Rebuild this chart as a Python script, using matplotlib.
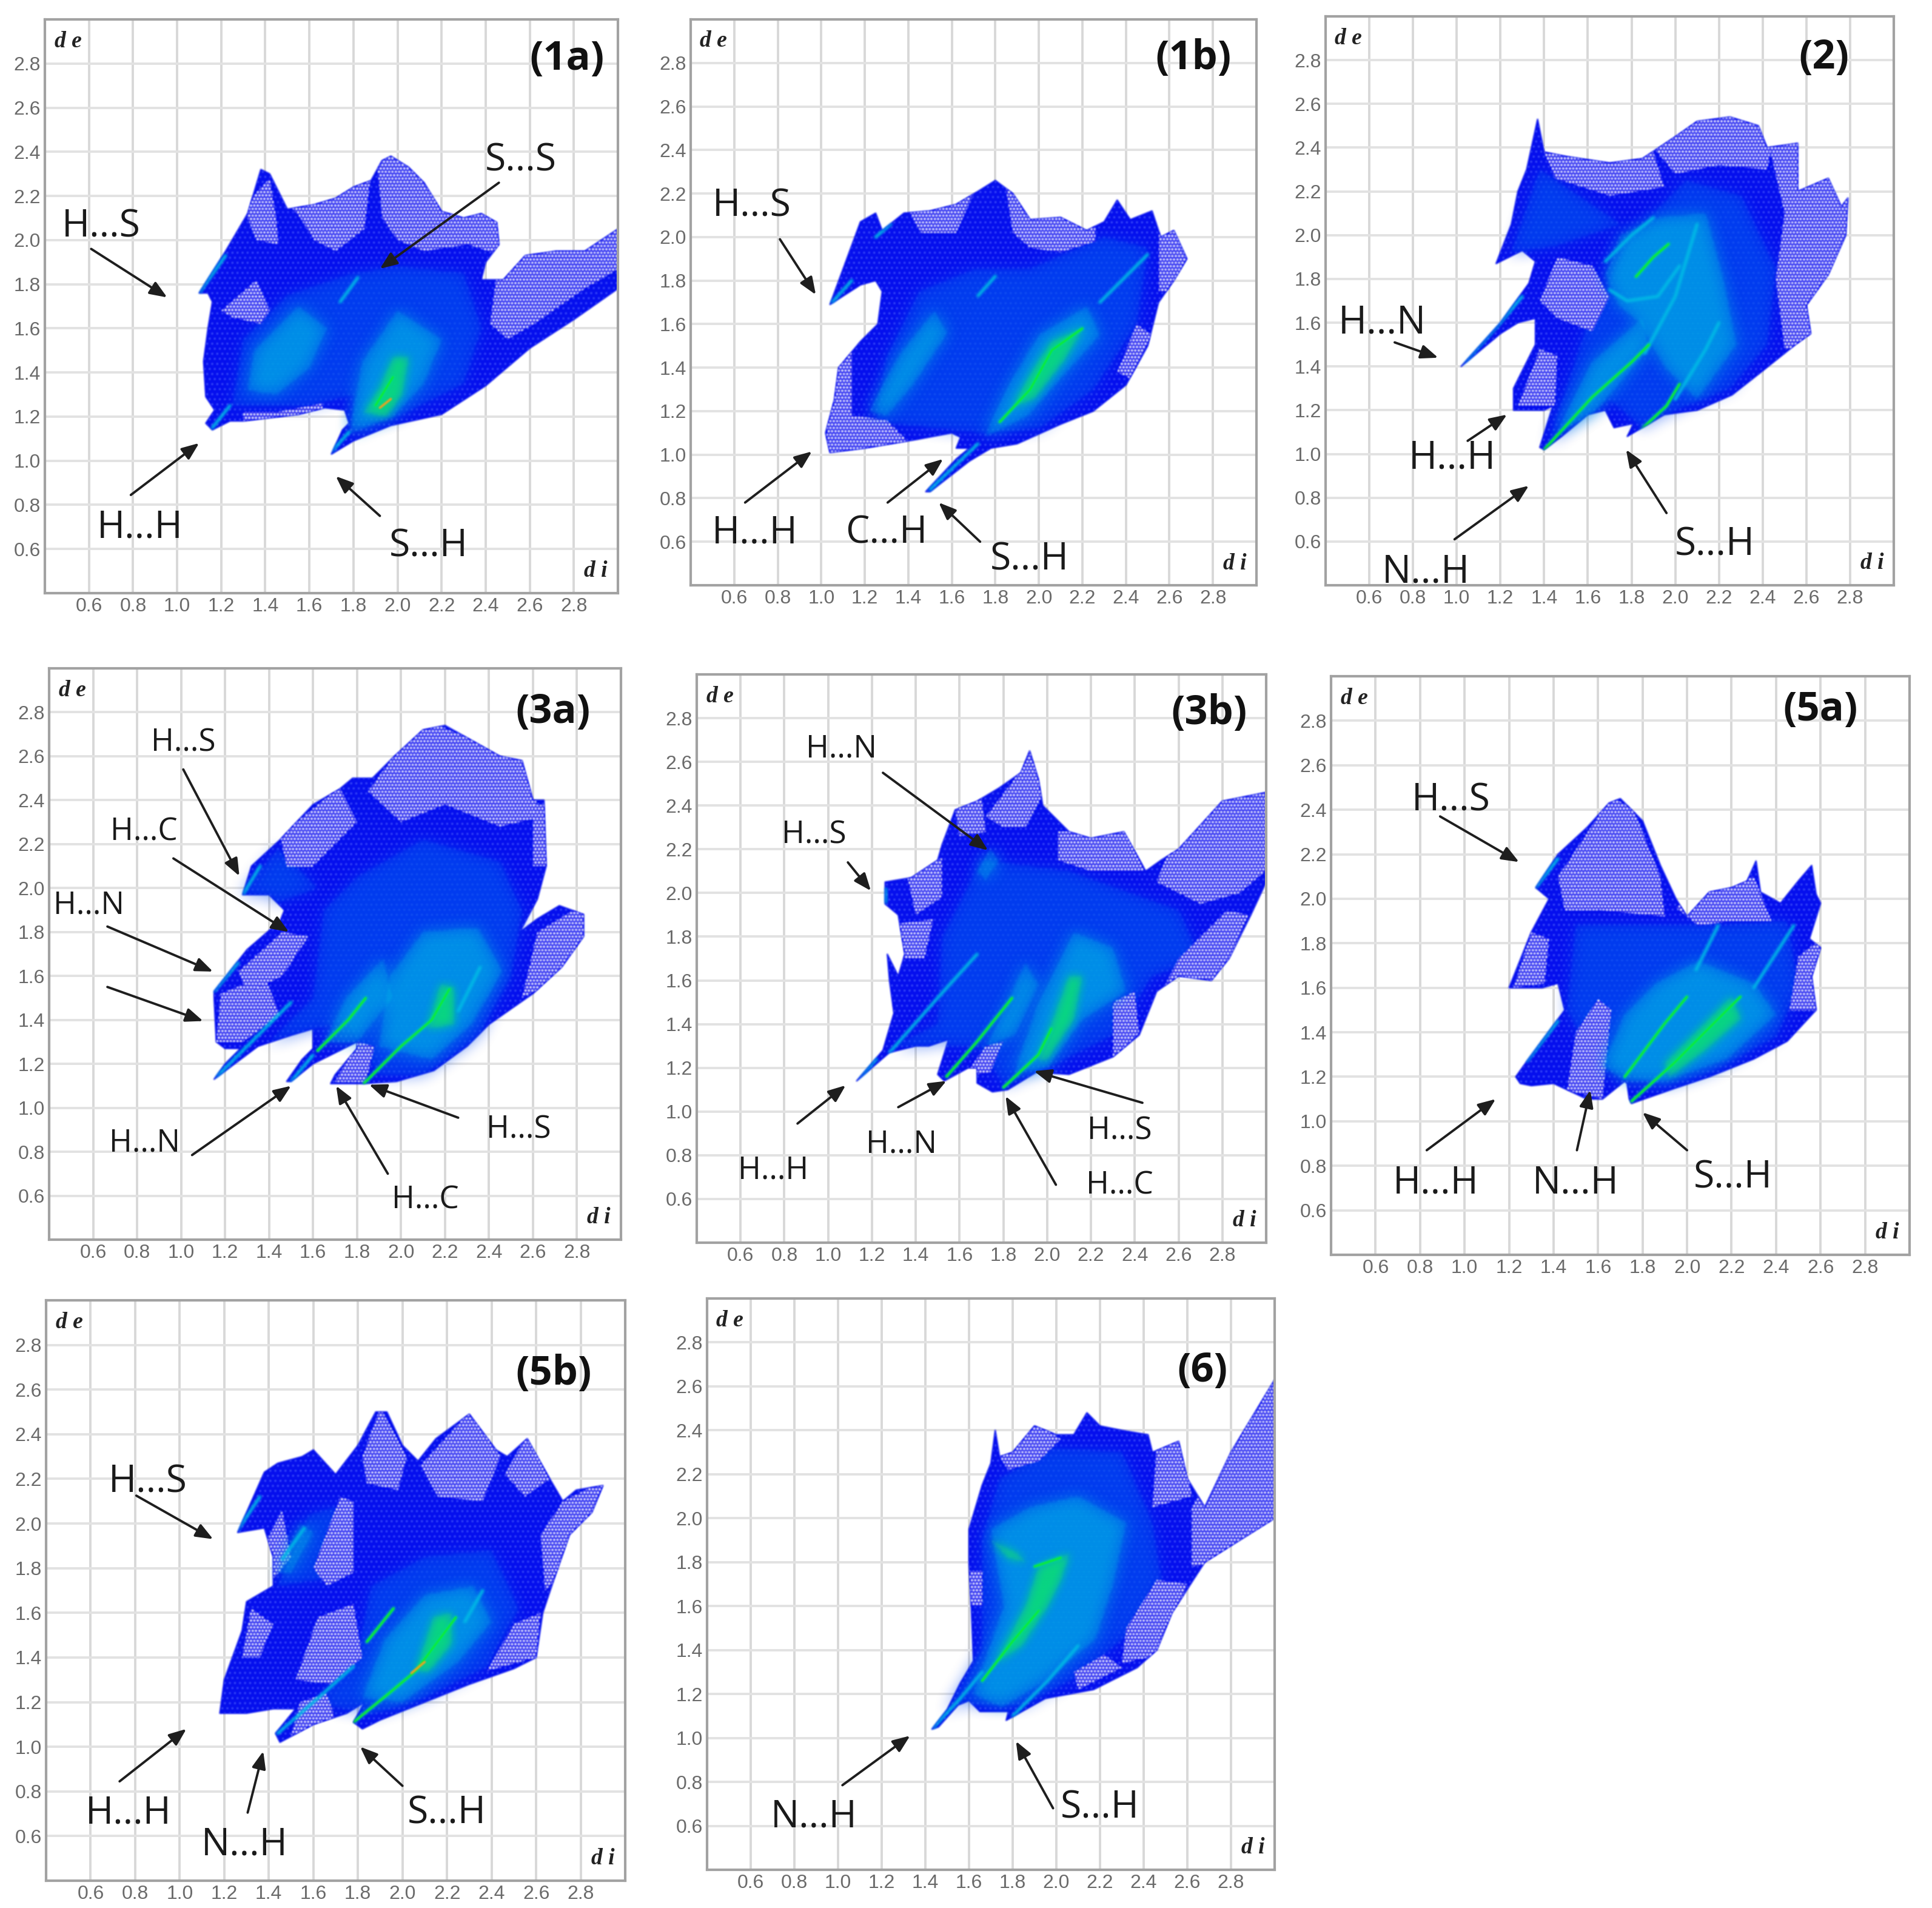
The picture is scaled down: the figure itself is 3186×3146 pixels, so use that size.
import numpy as np
import matplotlib
matplotlib.use("Agg")
import matplotlib.pyplot as plt
from matplotlib.patches import Polygon

W, H = 3186, 3146
DPI = 100
AX_MIN, AX_MAX = 0.4, 3.0
TICKS = [0.6, 0.8, 1.0, 1.2, 1.4, 1.6, 1.8, 2.0, 2.2, 2.4, 2.6, 2.8]
TICK_LABELS = ["0.6", "0.8", "1.0", "1.2", "1.4", "1.6", "1.8", "2.0", "2.2", "2.4", "2.6", "2.8"]

# ---- 1a -------------------------------------------------------------
OUT_1A = [(1.10,1.76),(1.22,1.95),(1.32,2.12),(1.38,2.32),(1.42,2.30),(1.50,2.14),(1.62,2.16),(1.72,2.19),(1.80,2.24),(1.88,2.27),(1.93,2.36),(1.97,2.38),(2.05,2.33),(2.12,2.26),(2.20,2.13),(2.30,2.10),(2.38,2.12),(2.45,2.08),(2.46,1.98),(2.40,1.90),(2.38,1.82),(2.48,1.82),(2.58,1.93),(2.72,1.95),(2.85,1.95),(3.00,2.05),(3.00,1.78),(2.80,1.64),(2.60,1.51),(2.40,1.34),(2.20,1.21),(1.97,1.16),(1.80,1.09),(1.70,1.03),(1.75,1.14),(1.78,1.17),(1.76,1.23),(1.67,1.24),(1.55,1.21),(1.30,1.18),(1.24,1.18),(1.16,1.14),(1.13,1.17),(1.17,1.23),(1.13,1.29),(1.12,1.45),(1.14,1.60),(1.16,1.72),(1.14,1.76)]
SPARSE_1A = [[(1.30,2.15),(1.42,2.28),(1.45,2.10),(1.46,1.98),(1.36,2.00)],[(1.50,2.17),(1.88,2.30),(1.85,2.05),(1.72,1.95),(1.62,2.00),(1.56,2.10)],[(1.90,2.42),(2.20,2.30),(2.50,2.15),(2.50,1.92),(2.32,1.98),(2.12,1.95),(2.00,2.00),(1.93,2.10)],[(2.42,1.62),(2.45,1.85),(2.60,2.00),(3.02,2.10),(3.02,1.88),(2.85,1.78),(2.62,1.62),(2.50,1.55)],[(1.20,1.68),(1.36,1.82),(1.42,1.68),(1.38,1.62),(1.25,1.65)],[(1.30,1.17),(1.66,1.20),(1.66,1.26),(1.45,1.22),(1.30,1.22)]]
MID_1A = [[(1.25,1.25),(1.30,1.55),(1.50,1.75),(1.80,1.85),(2.00,1.88),(2.30,1.85),(2.38,1.60),(2.30,1.35),(2.00,1.20),(1.80,1.15),(1.80,1.30),(1.60,1.25)]]
GLOW_1A = [[(1.32,1.32),(1.35,1.50),(1.55,1.70),(1.68,1.60),(1.60,1.42),(1.45,1.30)],[(1.78,1.12),(1.84,1.45),(2.00,1.68),(2.20,1.55),(2.12,1.35),(1.98,1.20)]]
HOT_1A = [[(1.85,1.22),(1.92,1.33),(1.98,1.47),(2.05,1.47),(2.02,1.30),(1.95,1.20)]]
RC_1A = [[(1.10,1.76),(1.22,1.93)],[(1.16,1.15),(1.24,1.25)],[(1.70,1.04),(1.78,1.13)],[(1.74,1.72),(1.82,1.83)]]
RG_1A = [[(1.90,1.25),(1.98,1.38)]]
RH_1A = [[(1.92,1.24),(1.97,1.28)]]

# ---- 1b -------------------------------------------------------------
OUT_1B = [(1.04,1.69),(1.18,2.07),(1.25,2.11),(1.28,2.03),(1.38,2.11),(1.50,2.12),(1.62,2.15),(1.72,2.21),(1.80,2.26),(1.88,2.20),(1.96,2.08),(2.10,2.09),(2.22,2.03),(2.30,2.07),(2.36,2.17),(2.42,2.08),(2.52,2.12),(2.56,2.00),(2.62,2.03),(2.68,1.90),(2.62,1.80),(2.55,1.70),(2.50,1.50),(2.40,1.32),(2.25,1.20),(2.10,1.14),(1.90,1.05),(1.78,1.03),(1.68,0.97),(1.50,0.83),(1.48,0.83),(1.62,0.98),(1.68,1.03),(1.62,1.03),(1.64,1.08),(1.60,1.10),(1.44,1.07),(1.20,1.03),(1.04,1.01),(1.02,1.10),(1.06,1.25),(1.08,1.40),(1.18,1.52),(1.26,1.60),(1.28,1.75),(1.25,1.80),(1.18,1.78)]
SPARSE_1B = [[(1.02,1.00),(1.40,1.06),(1.30,1.16),(1.14,1.18),(1.14,1.52),(1.04,1.40)],[(1.84,2.28),(2.26,2.12),(2.26,1.98),(2.10,1.93),(1.96,1.95),(1.88,2.02)],[(2.55,1.75),(2.55,2.05),(2.70,2.05),(2.70,1.75)],[(2.42,1.35),(2.52,1.55),(2.45,1.60),(2.36,1.38)],[(1.40,2.12),(1.70,2.20),(1.62,2.02),(1.46,2.02)]]
MID_1B = [[(1.25,1.15),(1.30,1.45),(1.45,1.75),(1.70,1.85),(1.95,1.85),(2.30,2.00),(2.50,1.95),(2.45,1.60),(2.25,1.30),(2.00,1.12),(1.75,1.10)]]
GLOW_1B = [[(1.75,1.08),(1.85,1.30),(2.00,1.55),(2.22,1.68),(2.28,1.55),(2.10,1.35),(1.95,1.18)],[(1.22,1.20),(1.36,1.46),(1.52,1.66),(1.58,1.56),(1.42,1.32),(1.30,1.18)]]
HOT_1B = [[(1.88,1.22),(1.98,1.40),(2.06,1.52),(2.20,1.58),(2.12,1.44),(1.98,1.26)]]
RC_1B = [[(1.50,0.84),(1.72,1.05)],[(1.05,1.70),(1.14,1.80)],[(1.25,2.00),(1.32,2.06)],[(1.72,1.73),(1.80,1.82)],[(2.28,1.70),(2.50,1.92)]]
RG_1B = [[(1.82,1.15),(1.96,1.30),(2.06,1.48),(2.20,1.58)]]
RH_1B = []

# ---- 2 --------------------------------------------------------------
OUT_2 = [(1.02,1.40),(1.20,1.60),(1.33,1.78),(1.36,1.88),(1.30,1.93),(1.18,1.87),(1.25,2.05),(1.28,2.20),(1.32,2.30),(1.37,2.53),(1.40,2.38),(1.50,2.36),(1.70,2.33),(1.85,2.35),(2.00,2.45),(2.10,2.52),(2.25,2.54),(2.38,2.50),(2.42,2.40),(2.56,2.42),(2.56,2.20),(2.70,2.26),(2.76,2.13),(2.79,2.17),(2.78,2.00),(2.70,1.82),(2.60,1.68),(2.62,1.55),(2.55,1.50),(2.40,1.38),(2.26,1.27),(2.10,1.20),(1.95,1.18),(1.78,1.08),(1.81,1.14),(1.72,1.12),(1.68,1.20),(1.60,1.18),(1.48,1.08),(1.40,1.02),(1.38,1.03),(1.44,1.22),(1.40,1.20),(1.26,1.20),(1.26,1.30),(1.36,1.50),(1.36,1.62),(1.28,1.60),(1.20,1.55)]
SPARSE_2 = [[(1.40,2.38),(1.90,2.38),(1.95,2.22),(1.70,2.18),(1.45,2.26)],[(1.90,2.40),(2.10,2.56),(2.30,2.56),(2.45,2.44),(2.42,2.30),(2.20,2.32),(2.00,2.28)],[(2.42,2.45),(2.60,2.45),(2.84,2.20),(2.80,1.90),(2.64,1.50),(2.50,1.48),(2.46,1.80),(2.50,2.10)],[(1.28,1.22),(1.45,1.22),(1.46,1.45),(1.38,1.48)],[(1.38,1.70),(1.46,1.90),(1.62,1.86),(1.70,1.72),(1.62,1.56),(1.46,1.62)]]
MID_2 = [[(1.42,1.05),(1.60,1.60),(1.80,2.00),(2.05,2.25),(2.30,2.18),(2.46,1.85),(2.42,1.50),(2.25,1.30),(2.00,1.20),(1.85,1.12),(1.70,1.25)],[(1.25,1.92),(1.38,2.30),(1.75,2.05),(1.45,1.95)]]
GLOW_2 = [[(1.68,1.82),(1.75,2.00),(1.92,2.08),(2.14,2.10),(2.22,1.80),(2.28,1.50),(2.10,1.25),(1.95,1.40),(1.84,1.60),(1.74,1.68)],[(1.46,1.10),(1.62,1.42),(1.85,1.62),(1.88,1.48),(1.62,1.18)]]
HOT_2 = []
RC_2 = [[(1.02,1.40),(1.20,1.60),(1.30,1.72)],[(1.70,1.75),(1.78,1.70),(1.92,1.72),(2.02,1.86)],[(1.68,1.88),(1.80,2.00),(1.90,2.08)],[(1.86,1.46),(2.00,1.72),(2.10,2.05)],[(2.00,1.25),(2.14,1.48),(2.20,1.60)]]
RG_2 = [[(1.40,1.02),(1.62,1.26),(1.80,1.42),(1.88,1.50)],[(1.82,1.09),(1.96,1.22),(2.02,1.32)],[(1.82,1.81),(1.90,1.90),(1.97,1.96)]]
RH_2 = []

# ---- 3a -------------------------------------------------------------
OUT_3A = [(1.15,1.53),(1.30,1.72),(1.45,1.85),(1.47,1.90),(1.40,1.97),(1.28,1.97),(1.32,2.10),(1.45,2.22),(1.60,2.38),(1.72,2.45),(1.78,2.50),(1.87,2.50),(1.97,2.60),(2.10,2.72),(2.20,2.74),(2.45,2.60),(2.55,2.58),(2.60,2.40),(2.65,2.40),(2.66,2.10),(2.62,1.95),(2.54,1.80),(2.62,1.86),(2.72,1.92),(2.83,1.88),(2.83,1.78),(2.73,1.64),(2.60,1.52),(2.40,1.38),(2.30,1.28),(2.15,1.17),(1.98,1.12),(1.83,1.11),(1.68,1.11),(1.70,1.15),(1.80,1.27),(1.80,1.30),(1.72,1.26),(1.60,1.20),(1.50,1.12),(1.48,1.12),(1.55,1.22),(1.60,1.27),(1.60,1.36),(1.50,1.33),(1.35,1.28),(1.15,1.13),(1.20,1.20),(1.27,1.27),(1.20,1.27),(1.16,1.30),(1.15,1.50)]
SPARSE_3A = [[(1.85,2.44),(1.98,2.62),(2.12,2.76),(2.46,2.62),(2.60,2.60),(2.62,2.32),(2.45,2.28),(2.20,2.38),(2.00,2.30)],[(1.45,2.24),(1.72,2.46),(1.80,2.30),(1.60,2.10),(1.48,2.10)],[(2.55,1.50),(2.62,1.80),(2.85,1.94),(2.85,1.74),(2.70,1.58)],[(1.16,1.30),(1.18,1.52),(1.38,1.60),(1.45,1.42),(1.28,1.30)],[(1.26,1.62),(1.46,1.80),(1.58,1.78),(1.46,1.60),(1.30,1.52)],[(1.70,1.12),(1.84,1.12),(1.88,1.28),(1.80,1.30)],[(2.60,2.38),(2.66,2.38),(2.66,2.10),(2.60,2.10)]]
MID_3A = [[(1.40,1.30),(1.60,1.50),(1.65,1.90),(1.80,2.05),(2.10,2.22),(2.45,2.12),(2.55,1.90),(2.50,1.60),(2.35,1.32),(2.10,1.15),(1.90,1.15),(1.75,1.40)],[(1.28,1.98),(1.44,2.18),(1.62,2.00),(1.40,1.92)]]
GLOW_3A = [[(1.90,1.28),(1.95,1.60),(2.10,1.80),(2.35,1.82),(2.46,1.62),(2.32,1.38),(2.14,1.22)],[(1.65,1.30),(1.75,1.50),(1.92,1.68),(1.96,1.50),(1.80,1.30)]]
HOT_3A = [[(2.12,1.36),(2.18,1.56),(2.24,1.55),(2.24,1.38)]]
RC_3A = [[(1.16,1.14),(1.30,1.28),(1.50,1.48)],[(1.15,1.53),(1.26,1.66)],[(1.50,1.12),(1.60,1.24)],[(1.28,1.97),(1.36,2.10)],[(2.26,1.44),(2.36,1.64)]]
RG_3A = [[(1.62,1.26),(1.76,1.40),(1.84,1.50)],[(1.83,1.11),(2.00,1.28),(2.14,1.40),(2.22,1.54)]]
RH_3A = []

# ---- 3b -------------------------------------------------------------
OUT_3B = [(1.13,1.14),(1.25,1.28),(1.30,1.45),(1.28,1.60),(1.27,1.72),(1.32,1.62),(1.35,1.72),(1.32,1.90),(1.26,1.95),(1.26,2.05),(1.38,2.07),(1.50,2.15),(1.52,2.22),(1.58,2.38),(1.68,2.42),(1.78,2.48),(1.88,2.55),(1.92,2.65),(1.96,2.52),(1.98,2.40),(2.10,2.28),(2.20,2.25),(2.35,2.28),(2.45,2.10),(2.52,2.15),(2.60,2.20),(2.80,2.42),(3.00,2.46),(3.00,2.05),(2.93,1.90),(2.83,1.70),(2.75,1.60),(2.60,1.62),(2.50,1.55),(2.42,1.35),(2.30,1.25),(2.10,1.17),(1.95,1.18),(1.82,1.10),(1.75,1.09),(1.68,1.13),(1.68,1.20),(1.64,1.20),(1.53,1.14),(1.50,1.17),(1.55,1.33),(1.46,1.30),(1.40,1.30),(1.28,1.27)]
SPARSE_3B = [[(2.50,2.05),(2.55,2.18),(2.80,2.44),(3.02,2.48),(3.02,2.12),(2.88,2.00),(2.70,1.95),(2.60,2.00)],[(1.72,2.35),(1.88,2.56),(1.92,2.66),(1.98,2.45),(1.90,2.30),(1.80,2.30)],[(1.36,2.08),(1.52,2.16),(1.52,1.98),(1.40,1.90)],[(1.32,1.86),(1.48,1.88),(1.44,1.70),(1.34,1.70)],[(2.05,2.28),(2.40,2.28),(2.44,2.10),(2.20,2.10),(2.05,2.15)],[(1.58,2.38),(1.70,2.44),(1.72,2.28),(1.60,2.26)],[(2.50,1.50),(2.78,1.58),(2.92,1.90),(2.82,1.92),(2.60,1.70)],[(2.30,1.24),(2.42,1.36),(2.40,1.55),(2.30,1.50)],[(1.62,1.16),(1.72,1.30),(1.80,1.32),(1.74,1.18)]]
MID_3B = [[(1.30,1.30),(1.50,1.40),(1.52,1.80),(1.70,2.15),(2.10,2.10),(2.60,1.92),(2.70,1.70),(2.48,1.62),(2.30,1.35),(2.00,1.20),(1.80,1.12),(1.70,1.30)]]
GLOW_3B = [[(1.85,1.18),(1.96,1.50),(2.12,1.82),(2.30,1.75),(2.36,1.55),(2.16,1.42),(2.00,1.20)],[(1.72,1.30),(1.82,1.50),(1.90,1.68),(1.96,1.58),(1.85,1.35)],[(1.68,2.10),(1.74,2.20),(1.78,2.15),(1.72,2.06)]]
HOT_3B = [[(1.96,1.24),(2.02,1.40),(2.10,1.62),(2.16,1.62),(2.12,1.42),(2.00,1.24)]]
RC_3B = [[(1.13,1.14),(1.22,1.24)],[(1.28,1.27),(1.50,1.52),(1.68,1.72)],[(1.26,1.96),(1.26,2.02)]]
RG_3B = [[(1.54,1.16),(1.68,1.32),(1.84,1.52)],[(1.80,1.11),(1.96,1.26),(2.02,1.38)]]
RH_3B = []

# ---- 5a -------------------------------------------------------------
OUT_5A = [(1.20,1.60),(1.30,1.85),(1.38,2.00),(1.32,2.05),(1.42,2.20),(1.55,2.32),(1.65,2.43),(1.70,2.45),(1.80,2.35),(1.88,2.15),(1.95,2.00),(2.00,1.92),(2.10,2.03),(2.20,2.05),(2.27,2.08),(2.31,2.17),(2.33,2.03),(2.42,1.98),(2.50,2.08),(2.56,2.15),(2.58,2.02),(2.60,1.98),(2.55,1.82),(2.60,1.78),(2.56,1.65),(2.58,1.50),(2.45,1.36),(2.30,1.28),(2.10,1.20),(1.95,1.15),(1.75,1.08),(1.74,1.10),(1.73,1.17),(1.72,1.18),(1.62,1.10),(1.55,1.10),(1.40,1.17),(1.30,1.16),(1.25,1.17),(1.23,1.20),(1.28,1.27),(1.45,1.50),(1.42,1.62),(1.35,1.60),(1.25,1.60)]
SPARSE_5A = [[(1.42,2.10),(1.66,2.46),(1.76,2.40),(1.88,2.10),(1.90,1.92),(1.60,1.95),(1.45,1.95)],[(1.22,1.60),(1.30,1.85),(1.38,1.82),(1.36,1.62)],[(1.46,1.14),(1.62,1.10),(1.66,1.50),(1.60,1.55),(1.50,1.40)],[(1.95,1.96),(2.10,2.06),(2.30,2.10),(2.38,1.90),(2.20,1.90),(2.05,1.88)],[(2.46,1.50),(2.60,1.50),(2.60,1.82),(2.50,1.74)]]
MID_5A = [[(1.46,1.50),(1.50,1.88),(1.90,1.88),(2.15,1.88),(2.45,1.90),(2.50,1.60),(2.40,1.38),(2.10,1.22),(1.90,1.16),(1.70,1.22),(1.60,1.25)]]
GLOW_5A = [[(1.62,1.25),(1.72,1.48),(1.86,1.62),(2.05,1.72),(2.30,1.62),(2.40,1.48),(2.18,1.28),(1.90,1.18),(1.72,1.18)]]
HOT_5A = [[(1.90,1.26),(2.10,1.46),(2.20,1.56),(2.24,1.46),(2.08,1.32),(1.92,1.20)]]
RC_5A = [[(1.28,1.27),(1.42,1.45)],[(1.32,2.05),(1.42,2.18)],[(2.30,1.60),(2.48,1.88)],[(2.04,1.68),(2.14,1.88)]]
RG_5A = [[(1.75,1.09),(1.94,1.26),(2.10,1.42),(2.24,1.56)],[(1.72,1.20),(1.90,1.44),(2.00,1.56)]]
RH_5A = []

# ---- 5b -------------------------------------------------------------
OUT_5B = [(1.18,1.15),(1.20,1.30),(1.28,1.52),(1.30,1.65),(1.42,1.72),(1.42,1.85),(1.38,1.98),(1.26,1.96),(1.30,2.05),(1.38,2.23),(1.44,2.27),(1.55,2.30),(1.60,2.33),(1.70,2.22),(1.80,2.35),(1.88,2.50),(1.93,2.50),(2.00,2.35),(2.07,2.28),(2.15,2.38),(2.30,2.49),(2.42,2.33),(2.47,2.30),(2.56,2.38),(2.65,2.22),(2.72,2.10),(2.78,2.15),(2.90,2.17),(2.85,2.05),(2.75,1.95),(2.68,1.75),(2.63,1.60),(2.60,1.40),(2.50,1.35),(2.30,1.28),(2.10,1.20),(1.90,1.12),(1.82,1.08),(1.78,1.11),(1.83,1.20),(1.75,1.15),(1.60,1.10),(1.45,1.02),(1.43,1.06),(1.52,1.17),(1.42,1.17),(1.30,1.15)]
SPARSE_5B = [[(1.82,2.30),(1.90,2.52),(2.02,2.30),(1.98,2.15),(1.84,2.18)],[(2.08,2.26),(2.30,2.50),(2.44,2.30),(2.36,2.10),(2.16,2.12)],[(2.46,2.22),(2.56,2.40),(2.66,2.20),(2.55,2.12)],[(1.38,1.90),(1.46,2.06),(1.50,1.85),(1.42,1.75)],[(1.60,1.80),(1.72,2.12),(1.78,2.10),(1.78,1.78),(1.66,1.72)],[(1.52,1.30),(1.62,1.58),(1.78,1.64),(1.82,1.40),(1.68,1.28)],[(1.28,1.40),(1.32,1.62),(1.42,1.55),(1.36,1.40)],[(2.62,1.95),(2.72,2.10),(2.92,2.20),(2.85,2.00),(2.74,1.80),(2.64,1.70)],[(2.38,1.34),(2.60,1.40),(2.62,1.60),(2.50,1.55)],[(1.50,1.05),(1.70,1.12),(1.66,1.24),(1.54,1.20)]]
MID_5B = [[(1.62,1.20),(1.80,1.42),(1.86,1.72),(2.10,1.85),(2.40,1.88),(2.52,1.62),(2.38,1.36),(2.10,1.22),(1.85,1.14)],[(1.44,1.72),(1.58,2.04),(1.72,2.08),(1.68,1.76)]]
GLOW_5B = [[(1.82,1.22),(1.92,1.48),(2.10,1.68),(2.32,1.72),(2.40,1.56),(2.25,1.38),(2.00,1.20)],[(1.44,1.78),(1.54,2.00),(1.60,1.96),(1.50,1.78)]]
HOT_5B = [[(2.06,1.34),(2.14,1.58),(2.22,1.60),(2.22,1.46),(2.12,1.34)]]
RC_5B = [[(1.44,1.06),(1.60,1.20),(1.78,1.36)],[(1.26,1.97),(1.36,2.12)],[(2.28,1.56),(2.36,1.70)],[(1.46,1.84),(1.56,1.98)]]
RG_5B = [[(1.78,1.11),(1.94,1.24),(2.06,1.34),(2.18,1.50),(2.24,1.58)],[(1.84,1.47),(1.96,1.62)]]
RH_5B = [[(2.04,1.33),(2.10,1.38)]]

# ---- 6 --------------------------------------------------------------
OUT_6 = [(1.43,1.04),(1.50,1.13),(1.56,1.25),(1.62,1.35),(1.61,1.60),(1.60,1.80),(1.60,1.95),(1.66,2.15),(1.70,2.25),(1.72,2.40),(1.74,2.28),(1.80,2.30),(1.90,2.42),(2.00,2.38),(2.08,2.38),(2.14,2.48),(2.20,2.42),(2.30,2.40),(2.42,2.38),(2.44,2.30),(2.56,2.35),(2.60,2.18),(2.68,2.05),(2.80,2.30),(3.00,2.63),(3.00,2.00),(2.68,1.80),(2.53,1.57),(2.46,1.40),(2.37,1.32),(2.17,1.22),(1.95,1.18),(1.77,1.08),(1.78,1.12),(1.65,1.12),(1.60,1.17),(1.55,1.15),(1.46,1.05)]
SPARSE_6 = [[(2.62,1.78),(2.62,2.05),(2.80,2.32),(3.02,2.66),(3.02,1.98),(2.80,1.80)],[(1.74,2.28),(1.90,2.44),(2.02,2.36),(1.92,2.26),(1.78,2.22)],[(2.44,2.05),(2.46,2.34),(2.58,2.36),(2.62,2.10)],[(2.30,1.34),(2.48,1.38),(2.60,1.70),(2.46,1.72),(2.32,1.50)],[(2.10,1.22),(2.30,1.32),(2.22,1.38),(2.08,1.30)],[(1.60,1.60),(1.66,1.60),(1.66,1.76),(1.60,1.76)]]
MID_6 = [[(1.50,1.13),(1.66,1.40),(1.66,1.90),(1.74,2.18),(1.98,2.32),(2.30,2.30),(2.44,1.98),(2.48,1.72),(2.36,1.50),(2.10,1.28),(1.85,1.15),(1.62,1.15)]]
GLOW_6 = [[(1.62,1.20),(1.76,1.60),(1.70,1.95),(1.88,2.05),(2.10,2.10),(2.32,1.98),(2.26,1.70),(2.18,1.45),(1.95,1.26),(1.75,1.14)]]
HOT_6 = [[(1.72,1.34),(1.86,1.60),(1.92,1.78),(2.06,1.84),(2.02,1.72),(1.96,1.60),(1.84,1.42)],[(1.70,1.90),(1.82,1.84),(1.86,1.80),(1.78,1.82)]]
RC_6 = [[(1.43,1.04),(1.56,1.18),(1.66,1.30)],[(1.80,1.10),(1.96,1.26),(2.10,1.42)]]
RG_6 = [[(1.66,1.26),(1.80,1.44),(1.92,1.58)],[(1.90,1.78),(2.02,1.82)]]
RH_6 = []

# ---- labels ----------------------------------------------------------
TITLES = ["(1a)", "(1b)", "(2)", "(3a)", "(3b)", "(5a)", "(5b)", "(6)"]
TITLE_POS = [(2.77,2.82),(2.71,2.82),(2.68,2.81),(2.69,2.80),(2.74,2.82),(2.60,2.85),(2.68,2.67),(2.67,2.67)]
LABEL_SIZES = [45, 45, 46, 37, 37, 45, 45, 45]

LAB_1A = [("H...S",0.654,2.06),("H...H",0.83,0.695),("S...H",2.14,0.61),("S...S",2.56,2.36)]
ARR_1A = [(0.61,1.96,0.955,1.74),(0.79,0.845,1.10,1.08),(1.92,0.75,1.72,0.93),(2.46,2.26,1.92,1.87)]
LAB_1B = [("H...S",0.68,2.14),("H...H",0.694,0.64),("C...H",1.30,0.64),("S...H",1.957,0.515)]
ARR_1B = [(0.81,1.99,0.975,1.735),(0.65,0.78,0.957,1.015),(1.305,0.78,1.56,0.98),(1.73,0.60,1.54,0.78)]
LAB_2 = [("H...N",0.66,1.60),("H...H",0.98,0.98),("N...H",0.86,0.46),("S...H",2.18,0.585)]
ARR_2 = [(0.716,1.51,0.915,1.44),(1.05,1.06,1.23,1.18),(0.99,0.61,1.33,0.855),(1.96,0.73,1.775,1.02)]
LAB_3A = [("H...S",1.01,2.66),("H...C",0.83,2.255),("H...N",0.58,1.92),("H...N",0.835,0.84),("H...C",2.11,0.58),("H...S",2.535,0.90)]
ARR_3A = [(1.01,2.54,1.265,2.055),(0.965,2.135,1.49,1.80),(0.665,1.825,1.145,1.62),(0.665,1.55,1.10,1.395),(1.05,0.785,1.50,1.10),(1.94,0.70,1.705,1.10),(2.26,0.955,1.855,1.105)]
LAB_3B = [("H...N",1.06,2.66),("H...S",0.935,2.265),("H...H",0.75,0.73),("H...N",1.335,0.85),("H...S",2.33,0.91),("H...C",2.33,0.66)]
ARR_3B = [(1.25,2.55,1.73,2.195),(1.09,2.14,1.195,2.01),(0.86,0.945,1.08,1.12),(1.32,1.02,1.54,1.14),(2.435,1.04,1.94,1.185),(2.04,0.665,1.81,1.07)]
LAB_5A = [("H...S",0.94,2.44),("H...H",0.87,0.72),("N...H",1.50,0.72),("S...H",2.205,0.745)]
ARR_5A = [(0.89,2.37,1.245,2.165),(0.83,0.87,1.14,1.10),(1.505,0.87,1.565,1.14),(2.00,0.87,1.80,1.04)]
LAB_5B = [("H...S",0.857,2.185),("H...H",0.77,0.70),("N...H",1.29,0.56),("S...H",2.20,0.70)]
ARR_5B = [(0.805,2.125,1.15,1.93),(0.73,0.845,1.03,1.08),(1.305,0.705,1.375,0.98),(2.00,0.825,1.81,1.00)]
LAB_6 = [("N...H",0.89,0.64),("S...H",2.20,0.68)]
ARR_6 = [(1.02,0.785,1.33,1.01),(1.985,0.68,1.815,0.985)]

# panel frames in pixels: left, right, top, bottom
BOX_1A = (74,1019,32,978)
BOX_1B = (1139,2072,32,965)
BOX_2 = (2186,3123,27,965)
BOX_3A = (81,1024,1102,2044)
BOX_3B = (1149,2088,1112,2049)
BOX_5A = (2195,3149,1115,2069)
BOX_5B = (76,1031,2144,3101)
BOX_6 = (1166,2102,2141,3083)

PANELS = [
    (BOX_1A,OUT_1A,SPARSE_1A,MID_1A,GLOW_1A,HOT_1A,RC_1A,RG_1A,RH_1A,LAB_1A,ARR_1A),
    (BOX_1B,OUT_1B,SPARSE_1B,MID_1B,GLOW_1B,HOT_1B,RC_1B,RG_1B,RH_1B,LAB_1B,ARR_1B),
    (BOX_2,OUT_2,SPARSE_2,MID_2,GLOW_2,HOT_2,RC_2,RG_2,RH_2,LAB_2,ARR_2),
    (BOX_3A,OUT_3A,SPARSE_3A,MID_3A,GLOW_3A,HOT_3A,RC_3A,RG_3A,RH_3A,LAB_3A,ARR_3A),
    (BOX_3B,OUT_3B,SPARSE_3B,MID_3B,GLOW_3B,HOT_3B,RC_3B,RG_3B,RH_3B,LAB_3B,ARR_3B),
    (BOX_5A,OUT_5A,SPARSE_5A,MID_5A,GLOW_5A,HOT_5A,RC_5A,RG_5A,RH_5A,LAB_5A,ARR_5A),
    (BOX_5B,OUT_5B,SPARSE_5B,MID_5B,GLOW_5B,HOT_5B,RC_5B,RG_5B,RH_5B,LAB_5B,ARR_5B),
    (BOX_6,OUT_6,SPARSE_6,MID_6,GLOW_6,HOT_6,RC_6,RG_6,RH_6,LAB_6,ARR_6),
]

plt.rcParams["hatch.linewidth"] = 1.0
fig = plt.figure(figsize=(W / DPI, H / DPI), dpi=DPI, facecolor="white")

BLUE = "#0610ee"
MIDBLUE = "#0046f0"
CYAN = "#00a8e4"
GREEN = "#00e078"
LIME = "#10f020"
HOTC = "#f0a020"


def box1d(a, r, axis):
    c = np.cumsum(a, axis=axis, dtype=float)
    pad = [(0, 0)] * a.ndim
    pad[axis] = (1, 0)
    c = np.pad(c, pad)
    n = a.shape[axis]
    hi = np.minimum(np.arange(n) + r + 1, n)
    lo = np.maximum(np.arange(n) - r, 0)
    return (np.take(c, hi, axis=axis) - np.take(c, lo, axis=axis)) / (2 * r + 1)


def soft(radius):
    """Agg filter: two passes of a box blur on the artist's own layer."""
    def f(im, dpi):
        pad = radius * 3
        im = np.pad(im[..., :4], ((pad, pad), (pad, pad), (0, 0)))
        a = im[..., 3:4]
        pm = np.concatenate([im[..., :3] * a, a], axis=2)
        for _ in range(2):
            pm = box1d(box1d(pm, radius, 0), radius, 1)
        al = np.clip(pm[..., 3:4], 1e-4, 1)
        out = np.concatenate([np.clip(pm[..., :3] / al, 0, 1), pm[..., 3:4]], axis=2)
        return out, -pad, -pad
    return f


def fill(ax, poly, clip, face, alpha=1.0, z=2, hatch=None, edge="none", blur=0):
    p = Polygon(poly, closed=True, facecolor=face, edgecolor=edge, hatch=hatch, lw=0, alpha=alpha, zorder=z)
    ax.add_patch(p)
    p.set_clip_path(clip)
    if blur:
        p.set_agg_filter(soft(blur))
    return p


def ridge(ax, line, clip, color, lw, z, blur=2):
    xs = [q[0] for q in line]
    ys = [q[1] for q in line]
    l, = ax.plot(xs, ys, color=color, lw=lw, solid_capstyle="round", zorder=z)
    l.set_clip_path(clip)
    l.set_agg_filter(soft(blur))


for title, tpos, lsize, panel in zip(TITLES, TITLE_POS, LABEL_SIZES, PANELS):
    box, outline, sparse, mid, glow, hot, rc, rg, rh, labs, arrs = panel
    left, right, top, bottom = box
    ax = fig.add_axes([left / W, 1 - bottom / H, (right - left) / W, (bottom - top) / H])
    ax.set_xlim(AX_MIN, AX_MAX)
    ax.set_ylim(AX_MIN, AX_MAX)
    ax.set_xticks(TICKS)
    ax.set_yticks(TICKS)
    ax.set_xticklabels(TICK_LABELS, fontsize=23, color="#6a6a6a", family="Liberation Sans")
    ax.set_yticklabels(TICK_LABELS, fontsize=23, color="#6a6a6a", family="Liberation Sans")
    ax.tick_params(length=0, pad=5)
    ax.set_axisbelow(True)
    ax.grid(True, axis="x", color="#d8d8d8", lw=2.8)
    ax.grid(True, axis="y", color="#e2e2e2", lw=2.8)
    for s in ax.spines.values():
        s.set_color("#a2a2a2")
        s.set_linewidth(3.0)
        s.set_zorder(20)

    body = Polygon(outline, closed=True, facecolor=BLUE, edgecolor=BLUE, lw=1.5, zorder=2, joinstyle="round")
    ax.add_patch(body)
    body.set_agg_filter(soft(1))
    # fine mottling over the whole dense area
    fill(ax, outline, body, "none", z=2.5, hatch="..", edge="#5a70ff", alpha=0.75, blur=1)
    for poly in mid:
        fill(ax, poly, body, MIDBLUE, alpha=0.6, z=3, blur=14)
        fill(ax, poly, body, "none", alpha=0.7, z=3.2, hatch="....", edge="#0080f0", blur=2)
    for poly in sparse:
        fill(ax, poly, body, "#1618f0", z=4, hatch="ooo", edge="white", blur=1)
    for poly in glow:
        fill(ax, poly, body, CYAN, alpha=0.62, z=5, blur=14)
        fill(ax, poly, body, "none", alpha=0.8, z=5.2, hatch="....", edge="#00d8e8", blur=2)
    for poly in hot:
        fill(ax, poly, body, GREEN, alpha=0.8, z=6, blur=8)
        fill(ax, poly, body, "none", alpha=0.8, z=6.2, hatch="....", edge="#30f050", blur=2)
    for line in rc:
        ridge(ax, line, body, "#00bce6", 3.6, 7)
    for line in rg:
        ridge(ax, line, body, "#00e08a", 3.6, 8)
        ridge(ax, line, body, LIME, 1.8, 8, blur=1)
    for line in rh:
        ridge(ax, line, body, HOTC, 2.6, 9, blur=1)

    ax.text(0.505, 2.90, "d e", family="Liberation Serif", style="italic", weight="bold",
            fontsize=27, color="#222222", ha="center", va="center", zorder=10)
    ax.text(2.90, 0.50, "d i", family="Liberation Serif", style="italic", weight="bold",
            fontsize=27, color="#222222", ha="center", va="center", zorder=10)
    ax.text(tpos[0], tpos[1], title, family="Open Sans", weight="bold", fontsize=48,
            color="#111111", ha="center", va="center", zorder=12)
    for txt, x, y in labs:
        ax.text(x, y, txt, family="Open Sans", fontsize=lsize, color="#1a1a1a",
                ha="center", va="center", zorder=12, clip_on=False)
    for x0, y0, x1, y1 in arrs:
        ax.annotate("", xy=(x1, y1), xytext=(x0, y0), annotation_clip=False, zorder=12,
                    arrowprops=dict(arrowstyle="-|>,head_length=0.75,head_width=0.3", color="#1e1e1e",
                                    lw=2.8, shrinkA=0, shrinkB=0, mutation_scale=23))

fig.savefig("out.png", dpi=DPI, facecolor="white")
